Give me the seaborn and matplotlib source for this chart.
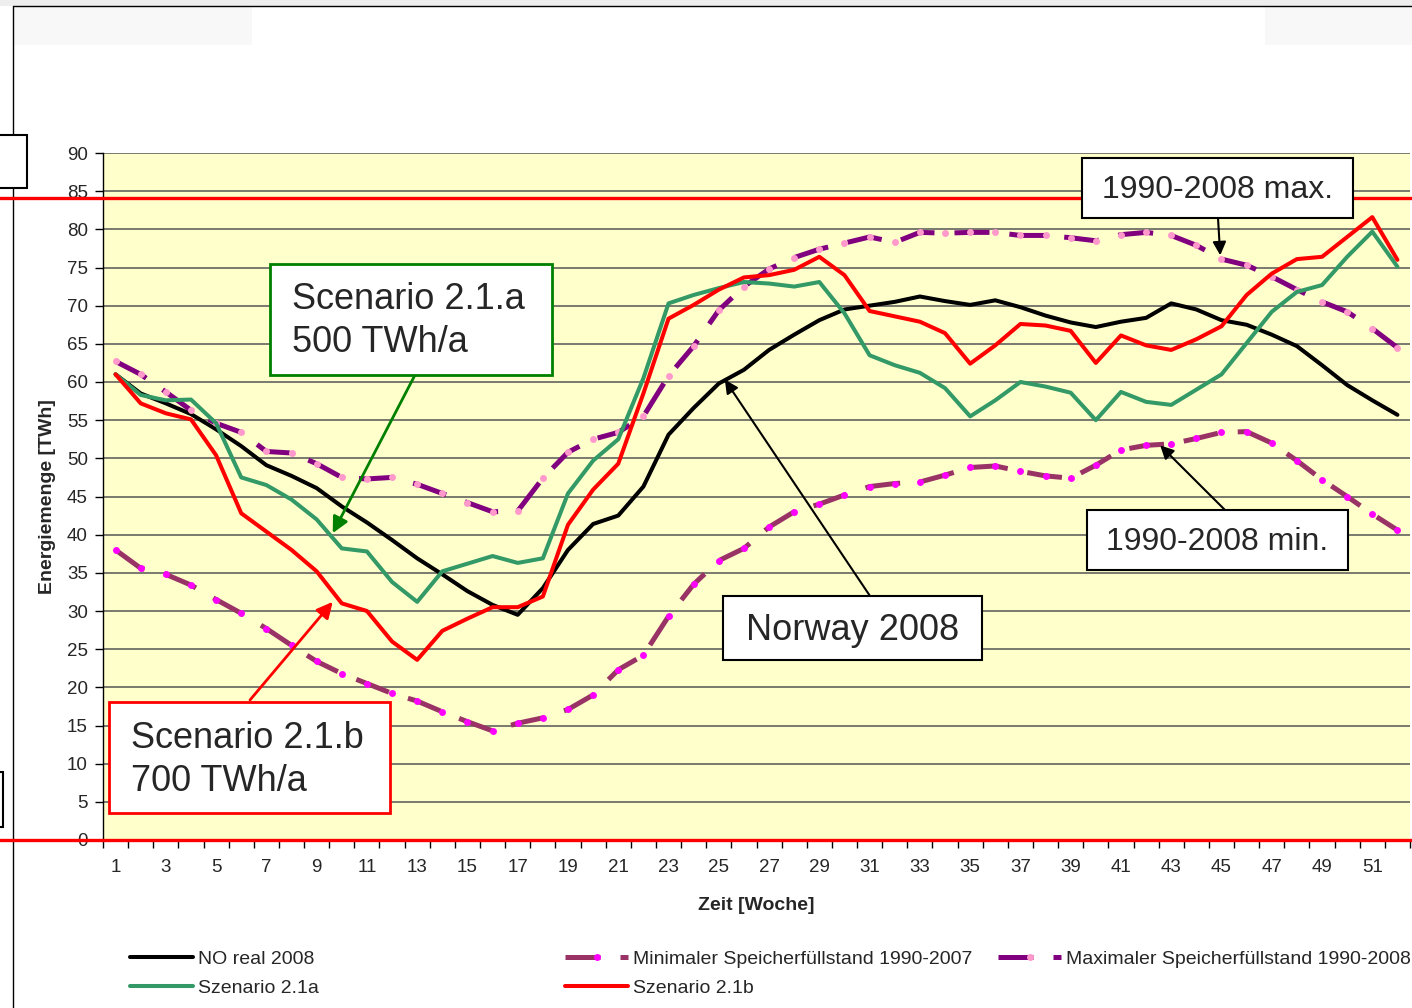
import numpy as np
import matplotlib
matplotlib.use("Agg")
import matplotlib.pyplot as plt
import matplotlib.transforms as mtransforms
from matplotlib.lines import Line2D
from matplotlib.patches import Rectangle
import seaborn as sns

# --- data (TWh per week) ---
weeks = list(range(1, 53))
no_real_2008 = [61.0, 58.5, 57.2, 55.8, 53.8, 51.6, 49.1, 47.7, 46.1, 43.7,
                41.6, 39.3, 36.9, 34.8, 32.6, 30.8, 29.5, 33.0, 38.0, 41.4,
                42.5, 46.3, 53.1, 56.6, 59.8, 61.6, 64.2, 66.2, 68.1, 69.5,
                70.0, 70.5, 71.2, 70.6, 70.1, 70.7, 69.8, 68.7, 67.8, 67.2,
                67.9, 68.4, 70.3, 69.5, 68.1, 67.5, 66.2, 64.7, 62.2, 59.6,
                57.6, 55.7]
szenario_21a = [61.0, 58.3, 57.6, 57.7, 54.6, 47.5, 46.5, 44.6, 42.0, 38.2,
                37.8, 33.8, 31.2, 35.2, 36.2, 37.2, 36.3, 36.9, 45.4, 49.7,
                52.5, 60.5, 70.3, 71.4, 72.3, 73.1, 72.9, 72.5, 73.1, 69.0,
                63.5, 62.2, 61.2, 59.2, 55.5, 57.6, 60.0, 59.4, 58.6, 55.0,
                58.7, 57.4, 57.0, 59.0, 61.0, 65.1, 69.2, 71.8, 72.7, 76.4,
                79.7, 75.1]
szenario_21b = [61.0, 57.2, 55.9, 55.1, 50.4, 42.8, 40.4, 38.0, 35.2, 31.0,
                30.0, 26.0, 23.6, 27.4, 29.0, 30.5, 30.5, 31.9, 41.3, 45.9,
                49.3, 58.5, 68.3, 70.1, 72.1, 73.7, 74.0, 74.7, 76.4, 74.0,
                69.3, 68.6, 67.9, 66.4, 62.4, 64.8, 67.6, 67.4, 66.7, 62.5,
                66.1, 64.8, 64.2, 65.6, 67.3, 71.4, 74.2, 76.1, 76.4, 79.0,
                81.6, 76.0]
min_1990_2007 = [38.0, 35.6, 34.8, 33.4, 31.5, 29.7, 27.7, 25.5, 23.4, 21.8,
                 20.5, 19.2, 18.2, 16.8, 15.5, 14.3, 15.3, 16.0, 17.1, 19.0,
                 22.3, 24.2, 29.3, 33.5, 36.6, 38.2, 41.0, 43.0, 44.0, 45.2,
                 46.3, 46.7, 46.9, 47.8, 48.8, 49.0, 48.3, 47.7, 47.4, 49.1,
                 51.1, 51.7, 51.9, 52.6, 53.4, 53.5, 52.0, 49.7, 47.2, 45.0,
                 42.7, 40.6]
max_1990_2008 = [62.7, 61.0, 58.7, 56.3, 54.6, 53.4, 50.9, 50.7, 49.3, 47.5,
                 47.3, 47.5, 46.6, 45.4, 44.2, 43.0, 43.1, 47.4, 50.8, 52.5,
                 53.4, 55.5, 60.8, 64.7, 69.4, 72.5, 74.8, 76.3, 77.4, 78.2,
                 79.0, 78.3, 79.6, 79.5, 79.6, 79.6, 79.2, 79.2, 78.9, 78.5,
                 79.3, 79.6, 79.2, 77.9, 76.1, 75.3, 73.8, 72.1, 70.5, 69.2,
                 67.0, 64.5]
capacity_level = 84.1
x_ticks = list(range(1, 52, 2))
y_ticks = list(range(0, 95, 5))

sns.set_theme(style="ticks")
plt.rcParams['font.family'] = ['Liberation Sans', 'DejaVu Sans']

W, H = 1412, 1008
fig = plt.figure(figsize=(W / 100, H / 100), dpi=100)
fig.patch.set_facecolor('white')


def fx(px):
    return px / W


def fy(py):
    return 1 - py / H


ax = fig.add_axes([fx(103), fy(840), fx(1410) - fx(103), fy(153) - fy(840)])
ax.set_facecolor('#FFFFCC')

# series, in the original series order
sns.lineplot(x=weeks, y=no_real_2008, ax=ax, color='black', lw=2.9,
             label='NO real 2008', legend=False)
sns.lineplot(x=weeks, y=min_1990_2007, ax=ax, color='#993366', lw=3.6,
             linestyle=(0, (7, 4)), marker='o', markersize=5,
             markerfacecolor='#FF00FF', markeredgewidth=0,
             label='Minimaler Speicherfüllstand 1990-2007', legend=False)
sns.lineplot(x=weeks, y=max_1990_2008, ax=ax, color='#800080', lw=3.6,
             linestyle=(0, (7, 4)), marker='o', markersize=5,
             markerfacecolor='#FF99CC', markeredgewidth=0,
             label='Maximaler Speicherfüllstand 1990-2008', legend=False)
sns.lineplot(x=weeks, y=szenario_21a, ax=ax, color='#339966', lw=2.9,
             label='Szenario 2.1a', legend=False)
sns.lineplot(x=weeks, y=szenario_21b, ax=ax, color='#FF0000', lw=2.9,
             label='Szenario 2.1b', legend=False)

ax.set_xlim(0.5, 52.5)
ax.set_ylim(0, 90)
ax.set_yticks(y_ticks)
ax.set_xticks(x_ticks)
ax.set_xticks(np.arange(0.5, 53, 1), minor=True)
ax.tick_params(axis='x', which='major', length=0, pad=14, labelsize=13.5,
               bottom=True)
ax.tick_params(axis='x', which='minor', length=6, width=1, color='black',
               direction='out', bottom=True)
ax.tick_params(axis='y', length=6, width=1, color='black', direction='out',
               pad=5, labelsize=13.5, left=True)
ax.yaxis.grid(True, color='#555555', lw=1.1)
ax.set_axisbelow(True)
for s in ['top', 'right']:
    ax.spines[s].set_visible(False)
for s in ['left', 'bottom']:
    ax.spines[s].set_color('black')
    ax.spines[s].set_linewidth(1)

ax.set_xlabel('Zeit [Woche]', fontsize=14, fontweight='bold', labelpad=15)
ax.set_ylabel('Energiemenge [TWh]', fontsize=14, fontweight='bold', labelpad=8)

# red reference lines across the whole figure (capacity and zero)
trans = mtransforms.blended_transform_factory(fig.transFigure, ax.transData)
for v in [capacity_level, 0]:
    fig.add_artist(Line2D([0, 1], [v, v], transform=trans, color='#FF0000',
                          lw=2.4, zorder=10))

# page frame and clipped boxes from the original slide
fig.add_artist(Rectangle((0, fy(6)), 1, 1 - fy(6), transform=fig.transFigure,
                         facecolor='#eeeeee', edgecolor='none', zorder=0))
fig.add_artist(Rectangle((fx(13), fy(45)), fx(252) - fx(13), fy(6) - fy(45),
                         transform=fig.transFigure, facecolor='#f8f8f8',
                         edgecolor='none', zorder=0))
fig.add_artist(Rectangle((fx(1265), fy(45)), 1 - fx(1265), fy(6) - fy(45),
                         transform=fig.transFigure, facecolor='#f8f8f8',
                         edgecolor='none', zorder=0))
fig.add_artist(Line2D([fx(13), fx(13)], [0, fy(6)], transform=fig.transFigure,
                      color='black', lw=1))
fig.add_artist(Line2D([fx(13), 1], [fy(6), fy(6)], transform=fig.transFigure,
                      color='black', lw=1))
for (x0, y0, x1, y1) in [(-5, 135, 27, 188), (-5, 772, 3, 827)]:
    fig.add_artist(Rectangle((fx(x0), fy(y1)), fx(x1) - fx(x0), fy(y0) - fy(y1),
                             transform=fig.transFigure, facecolor='white',
                             edgecolor='black', lw=1.5, zorder=11))


def box(x0, y0, x1, y1, ec, lw):
    fig.add_artist(Rectangle((fx(x0), fy(y1)), fx(x1) - fx(x0), fy(y0) - fy(y1),
                             transform=fig.transFigure, facecolor='white',
                             edgecolor=ec, lw=lw, zorder=20))


def arrow(start, tip, color, lw, scale):
    ax.annotate('', xy=tip, xycoords='data',
                xytext=(fx(start[0]), fy(start[1])), textcoords='figure fraction',
                arrowprops=dict(arrowstyle='-|>', color=color, lw=lw,
                                mutation_scale=scale, shrinkA=0, shrinkB=0),
                annotation_clip=False, zorder=18)


# callouts
box(270, 264, 552, 375, '#008000', 2)
fig.text(fx(292), fy(321), 'Scenario 2.1.a\n500 TWh/a', fontsize=26,
         ha='left', va='center', linespacing=1.3, zorder=21)
arrow((415, 375), (9.64, 40.2), '#008000', 2, 24)

box(109, 702, 390, 813, '#FF0000', 2)
fig.text(fx(131), fy(760), 'Scenario 2.1.b\n700 TWh/a', fontsize=26,
         ha='left', va='center', linespacing=1.3, zorder=21)
arrow((250, 700), (9.64, 31.2), '#FF0000', 2, 24)

box(723, 596, 982, 660, 'black', 1.5)
fig.text(fx(852.5), fy(630), 'Norway 2008', fontsize=26, ha='center',
         va='center', zorder=21)
arrow((870, 596), (25.24, 60.3), 'black', 1.5, 20)

box(1082, 158, 1353, 218, 'black', 1.5)
fig.text(fx(1217.5), fy(190), '1990-2008 max.', fontsize=23, ha='center',
         va='center', zorder=21)
arrow((1218, 218), (44.95, 76.6), 'black', 1.5, 20)

box(1087, 510, 1348, 570, 'black', 1.5)
fig.text(fx(1217.5), fy(542), '1990-2008 min.', fontsize=23, ha='center',
         va='center', zorder=21)
arrow((1225, 510), (42.56, 51.7), 'black', 1.5, 20)

# legend in three columns like the original
handles, labels = ax.get_legend_handles_labels()
lookup = dict(zip(labels, handles))
columns = [(['NO real 2008', 'Szenario 2.1a'], 130),
           (['Minimaler Speicherfüllstand 1990-2007', 'Szenario 2.1b'], 565),
           (['Maximaler Speicherfüllstand 1990-2008'], 998)]
for names, xpos in columns:
    leg = fig.legend([lookup[n] for n in names], names, loc='upper left',
                     bbox_to_anchor=(fx(xpos), fy(950)), frameon=False,
                     fontsize=14, handlelength=3.25, handletextpad=0.25,
                     borderpad=0, borderaxespad=0, labelspacing=0.62,
                     numpoints=1)

fig.savefig('out.png', dpi=100)
